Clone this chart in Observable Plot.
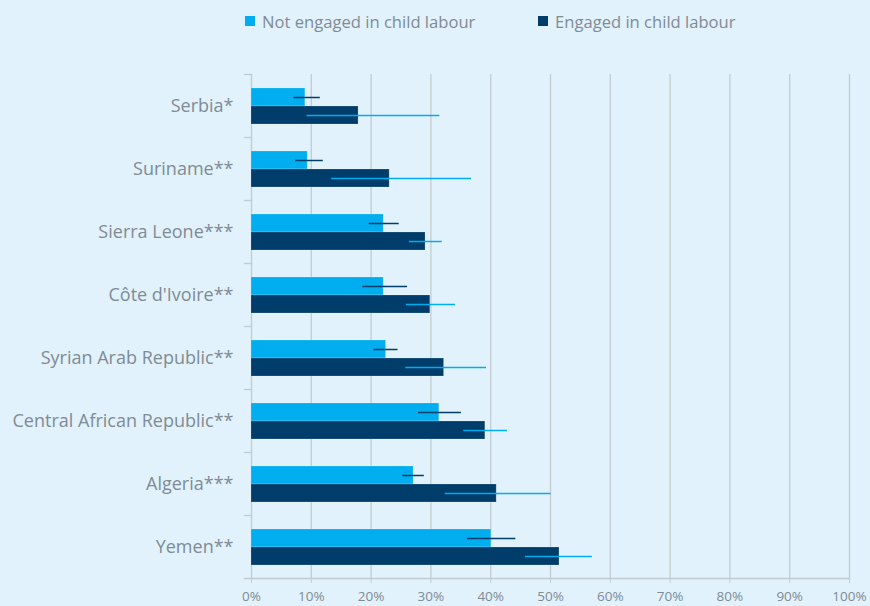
<!DOCTYPE html>
<html>
<head>
<meta charset="utf-8">
<script src="https://cdn.jsdelivr.net/npm/d3@7"></script>
<script src="https://cdn.jsdelivr.net/npm/@observablehq/plot@0.6"></script>
<style>
  html, body { margin: 0; padding: 0; background: #e1f2fc; }
  #wrap { position: relative; width: 870px; height: 606px; background: #e1f2fc; overflow: hidden; }
  #legend { position: absolute; top: 11px; left: 245px; font-family: "Open Sans", sans-serif; font-size: 16.6px; color: #7f8b95; white-space: nowrap; }
  .item { position: absolute; top: 0; display: flex; align-items: center; height: 20px; }
  .sw { width: 10px; height: 10px; margin-right: 7px; }
</style>
</head>
<body>
<div id="wrap">
  <div id="legend"></div>
  <div id="chart"></div>
</div>
<script>
const countries = ["Serbia*", "Suriname**", "Sierra Leone***", "Côte d'Ivoire**", "Syrian Arab Republic**", "Central African Republic**", "Algeria***", "Yemen**"];
const seriesNames = ["Not engaged in child labour", "Engaged in child labour"];
const seriesColors = ["#00aeef", "#003d6b"];
const notEngaged = [9.0, 9.4, 22.1, 22.1, 22.5, 31.4, 27.1, 40.1];
const engaged    = [17.9, 23.1, 29.1, 29.9, 32.2, 39.1, 41.0, 51.5];
const notEngagedLow  = [7.1, 7.4, 19.7, 18.6, 20.5, 27.9, 25.3, 36.1];
const notEngagedHigh = [11.5, 12.0, 24.7, 26.1, 24.5, 35.1, 28.9, 44.2];
const engagedLow  = [9.3, 13.4, 26.4, 25.9, 25.8, 35.5, 32.4, 45.8];
const engagedHigh = [31.5, 36.8, 31.9, 34.1, 39.3, 42.8, 50.1, 57.0];
const xTicks = [0, 10, 20, 30, 40, 50, 60, 70, 80, 90, 100];

const rows = [];
countries.forEach((c, i) => {
  rows.push({country: c, series: seriesNames[0], value: notEngaged[i], lo: notEngagedLow[i], hi: notEngagedHigh[i]});
  rows.push({country: c, series: seriesNames[1], value: engaged[i], lo: engagedLow[i], hi: engagedHigh[i]});
});

const grey = "#c3cbd2";
const textGrey = "#7f8b95";

// legend
const legend = document.getElementById("legend");
[[0, 0], [1, 293]].forEach(([k, left]) => {
  const it = document.createElement("div");
  it.className = "item";
  it.style.left = left + "px";
  it.innerHTML = `<span class="sw" style="background:${seriesColors[k]}"></span><span>${seriesNames[k]}</span>`;
  legend.appendChild(it);
});

const chart = Plot.plot({
  width: 870,
  height: 606,
  marginTop: 73,
  marginBottom: 28,
  marginLeft: 251,
  marginRight: 21,
  style: {background: "transparent", fontFamily: "'Open Sans', sans-serif", color: textGrey},
  x: {domain: [0, 100], axis: null},
  y: {domain: seriesNames, paddingInner: 0, paddingOuter: 0.75, axis: null},
  fy: {domain: countries, padding: 0, axis: null},
  color: {domain: seriesNames, range: seriesColors},
  marks: [
    Plot.gridX(xTicks, {stroke: grey, strokeOpacity: 1, strokeWidth: 1.3}),
    Plot.frame({anchor: "top", stroke: grey, strokeWidth: 1.3, insetLeft: -7, insetRight: 598}),
    Plot.frame({anchor: "bottom", facetAnchor: "bottom", stroke: grey, strokeWidth: 1.3, insetLeft: -7}),
    Plot.barX(rows, {fy: "country", y: "series", x: "value", fill: "series", stroke: "#ffffff", strokeOpacity: 0.18, strokeWidth: 1}),
    Plot.ruleY(rows.filter(d => d.series === seriesNames[0]), {fy: "country", y: "series", x1: "lo", x2: "hi", stroke: seriesColors[1], strokeWidth: 1.5}),
    Plot.ruleY(rows.filter(d => d.series === seriesNames[1]), {fy: "country", y: "series", x1: "lo", x2: "hi", stroke: seriesColors[0], strokeWidth: 1.5}),
    Plot.axisFy({anchor: "left", tickSize: 0, tickPadding: 18, fontSize: 18, fill: textGrey, label: null}),
    Plot.axisX({ticks: xTicks, tickFormat: d => d + "%", tickSize: 5, stroke: grey, strokeOpacity: 1, tickPadding: 8, fontSize: 13.5, fill: textGrey, label: null})
  ]
});
document.getElementById("chart").appendChild(chart);
</script>
</body>
</html>
